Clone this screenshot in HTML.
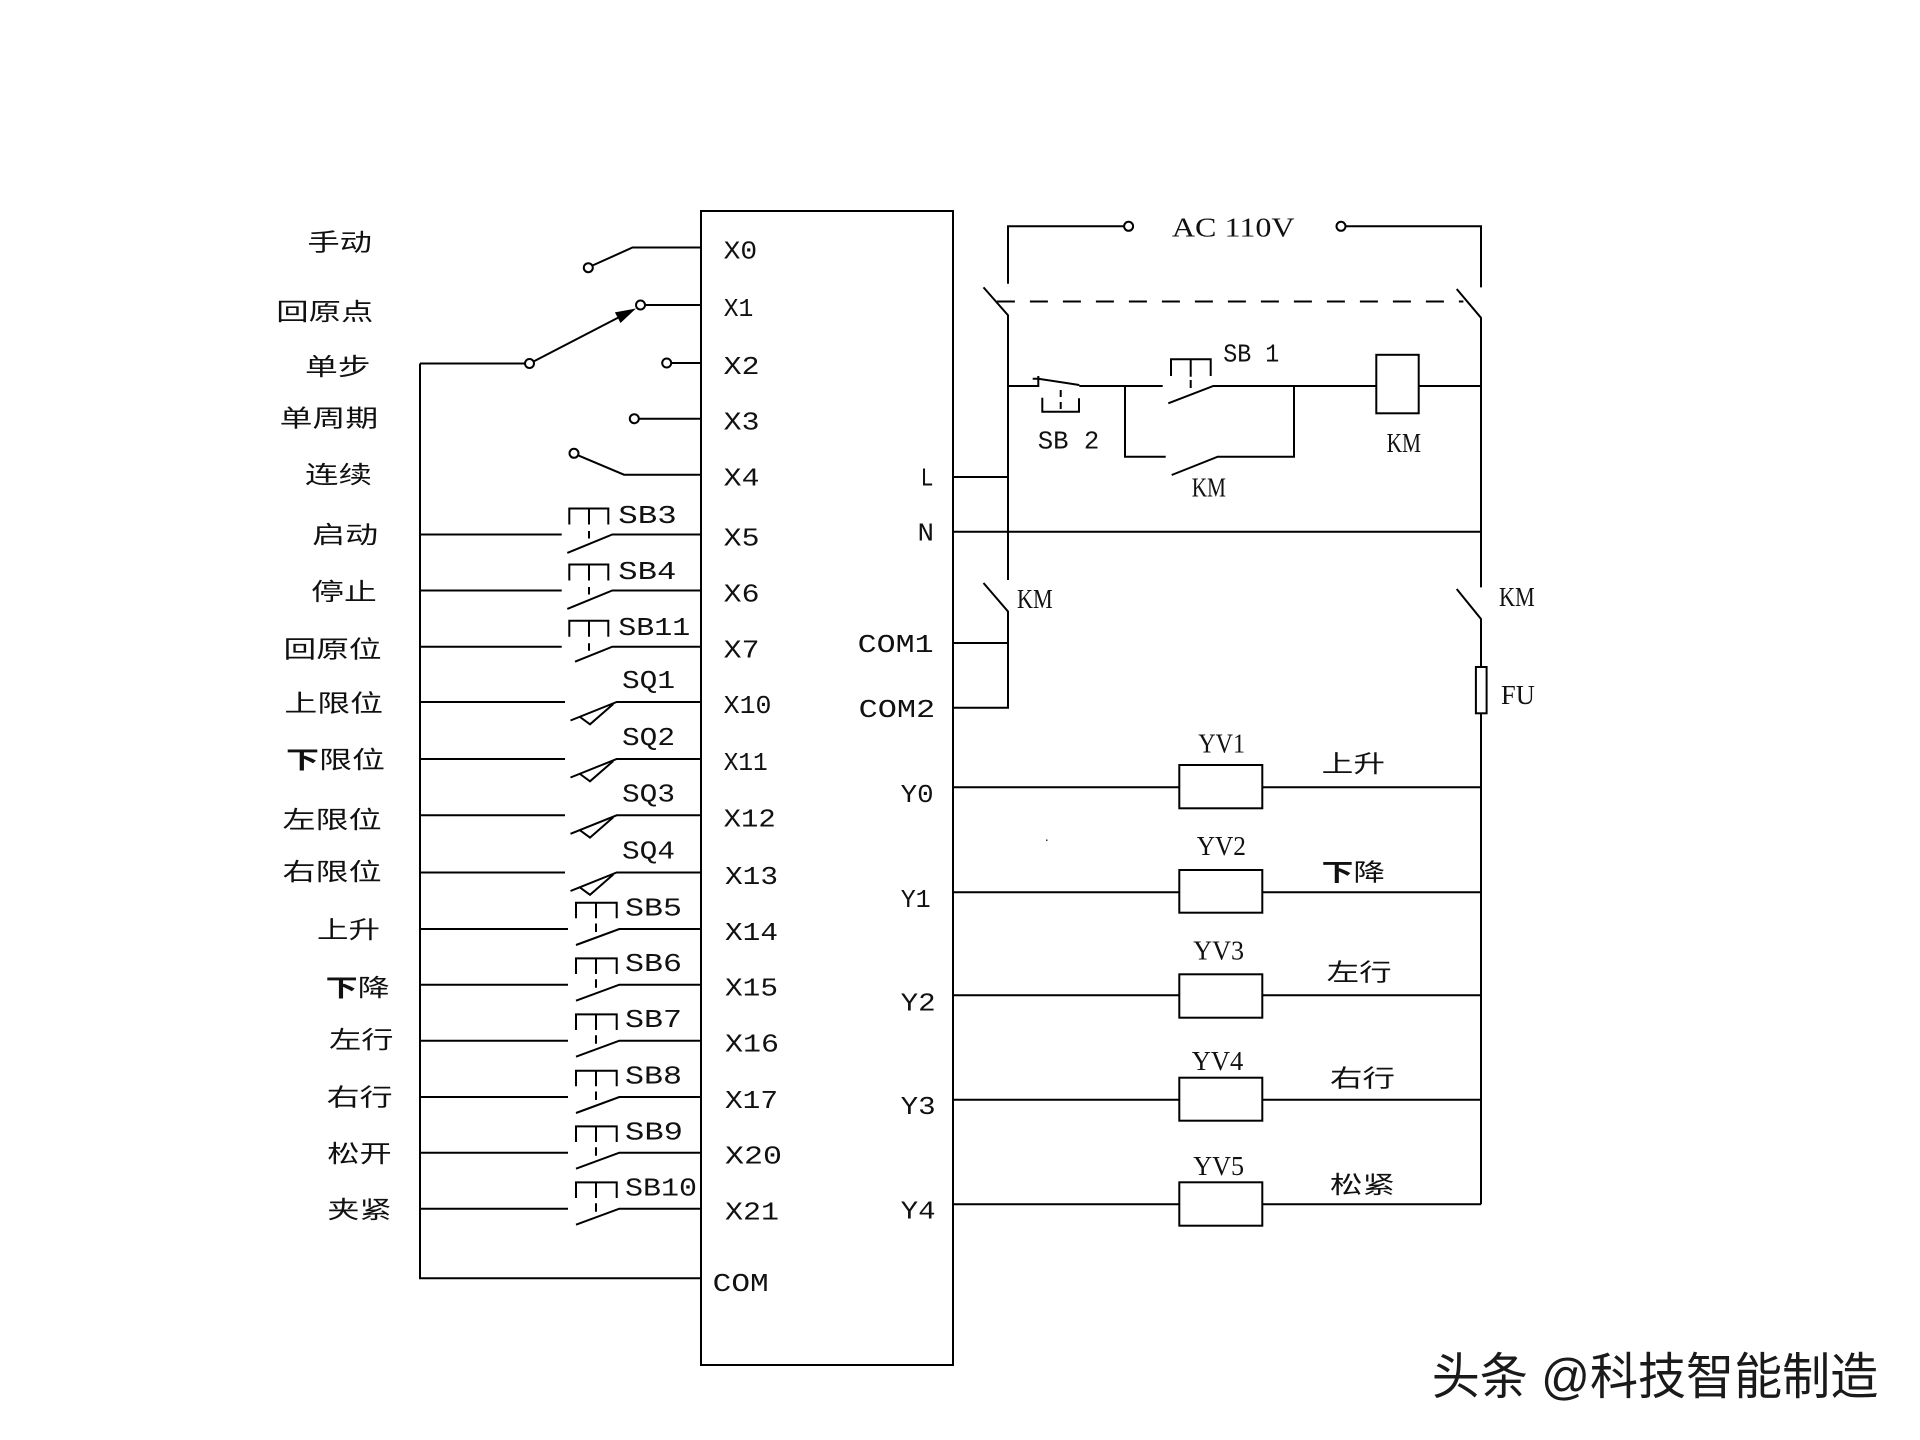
<!DOCTYPE html>
<html><head><meta charset="utf-8">
<style>
html,body{margin:0;padding:0;background:#fff;}
svg{display:block;}
.m{font-family:"Liberation Mono",monospace;font-size:26px;fill:#111;}
.s{font-family:"Liberation Serif",serif;font-size:27px;fill:#111;}
.c{font-family:"Liberation Sans","Noto Sans CJK SC",sans-serif;font-size:24px;fill:#111;}
.w{font-family:"Liberation Sans","Noto Sans CJK SC",sans-serif;font-size:50px;fill:#1a1a1a;}
</style></head><body>
<svg width="1920" height="1440" viewBox="0 0 1920 1440" xmlns="http://www.w3.org/2000/svg">
<rect x="0" y="0" width="1920" height="1440" fill="#fff"/>
<g stroke="#000" stroke-width="2" fill="none">
<!-- PLC box -->
<rect x="701" y="211" width="252" height="1154"/>
<!-- X0..X4 selector area -->
<path d="M701 247.5 H632.5 L592.5 265.5"/>
<circle cx="588.3" cy="267.7" r="4.5"/>
<path d="M701 305 H645"/>
<circle cx="640.5" cy="305" r="4.5"/>
<path d="M420 363.5 H525"/>
<circle cx="529.5" cy="363.5" r="4.5"/>
<path d="M533.5 361.5 L630 311.5"/>
<path d="M701 363 H671.2"/>
<circle cx="666.7" cy="363" r="4.5"/>
<path d="M701 418.7 H638.8"/>
<circle cx="634.3" cy="418.7" r="4.5"/>
<path d="M701 474.7 H624 L578 455.3"/>
<circle cx="574" cy="453.3" r="4.5"/>
<!-- bus -->
<path d="M420 363.5 V1278.3 H701"/>

<!-- SB type 1 rows: X5 534.5, X6 590.5, X7 646.7 -->
<path d="M420 534.5 H561.7 M567.3 552.9 L612.3 534.5 H701 M569.3 524.5 V508.5 H608.3 V524.5 M589 508.5 V524.5 M589 531 V538.5"/>
<path d="M420 590.5 H561.7 M567.3 608.9 L612.3 590.5 H701 M569.3 580.5 V564.5 H608.3 V580.5 M589 564.5 V580.5 M589 587 V594.5"/>
<path d="M420 646.7 H561.7 M575 661.7 L612.3 646.7 H701 M569.3 636.7 V620.7 H608.3 V636.7 M589 620.7 V636.7 M589 643.2 V650.7"/>

<!-- SQ rows: 702, 759, 815.3, 872.5 -->
<path d="M420 702 H565 M701 702 H616.7 L570.5 720.5 M580 717 L590 724.3 L613.3 704"/>
<path d="M420 759 H565 M701 759 H616.7 L570.5 777.5 M580 774 L590 781.3 L613.3 761"/>
<path d="M420 815.3 H565 M701 815.3 H616.7 L570.5 833.8 M580 830.3 L590 837.6 L613.3 817.3"/>
<path d="M420 872.5 H565 M701 872.5 H616.7 L570.5 891 M580 887.5 L590 894.8 L613.3 874.5"/>

<!-- SB type 2 rows: 929, 984.7, 1040.7, 1097, 1152.7, 1208.7 -->
<path d="M420 929 H568 M576 945 L619.3 929 H701 M576 918.3 V902.7 H616.7 V918.3 M596 902.7 V918.3 M596 923.5 V932"/>
<path d="M420 984.7 H568 M576 1000.7 L619.3 984.7 H701 M576 974 V958.4 H616.7 V974 M596 958.4 V974 M596 979.2 V987.7"/>
<path d="M420 1040.7 H568 M576 1056.7 L619.3 1040.7 H701 M576 1030 V1014.4 H616.7 V1030 M596 1014.4 V1030 M596 1035.2 V1043.7"/>
<path d="M420 1097 H568 M576 1113 L619.3 1097 H701 M576 1086.3 V1070.7 H616.7 V1086.3 M596 1070.7 V1086.3 M596 1091.5 V1100"/>
<path d="M420 1152.7 H568 M576 1168.7 L619.3 1152.7 H701 M576 1142 V1126.4 H616.7 V1142 M596 1126.4 V1142 M596 1147.2 V1155.7"/>
<path d="M420 1208.7 H568 M576 1224.7 L619.3 1208.7 H701 M576 1198 V1182.4 H616.7 V1198 M596 1182.4 V1198 M596 1203.2 V1211.7"/>

<!-- Right side power -->
<path d="M1008 283.7 V226.3 H1124.1"/>
<circle cx="1128.6" cy="226.3" r="4.5"/>
<circle cx="1341" cy="226.3" r="4.5"/>
<path d="M1345.5 226.3 H1481 V287.4"/>
<path d="M983.5 287.4 L1008 315.2 V580"/>
<path d="M1456.7 289 L1481 317.8 V587.4"/>
<path d="M996.9 301.5 H1463.4" stroke-dasharray="18 15"/>
<path d="M983.5 583 L1008 611.5 V707.8 H953"/>
<path d="M1456.7 589 L1481 619 V667"/>
<rect x="1475.9" y="667" width="10.7" height="46.3"/>
<path d="M1481 713.3 V1204.3"/>
<path d="M953 477 H1008 M953 531.7 H1481 M953 643 H1008"/>

<!-- control circuit -->
<path d="M1008 386 H1038.3 V376 M1032.7 378.7 H1040 M1038.3 378.7 L1079.3 385 M1079.3 386 H1125"/>
<path d="M1042.3 397.7 V411.7 H1079 V398.3"/>
<path d="M1060.7 390 V411.7" stroke-dasharray="7 5"/>
<path d="M1125 386 V456.7 H1165.7 M1171.7 475 L1217.7 456.7 H1294 V386"/>
<path d="M1125 386 H1162.7 M1168.3 403.3 L1213.3 386 H1376.3 M1418.7 386 H1481"/>
<path d="M1171 376 V359.3 H1210.7 V376 M1190.7 359.3 V376.7 M1190.7 380 V388"/>
<rect x="1376.3" y="354.8" width="42.4" height="58.5"/>

<!-- outputs -->
<path d="M953 787.3 H1179.3 M1262.3 787.3 H1481"/>
<rect x="1179.3" y="765" width="83" height="43.3"/>
<path d="M953 892.3 H1179.3 M1262.3 892.3 H1481"/>
<rect x="1179.3" y="870" width="83" height="42.7"/>
<path d="M953 995.3 H1179.3 M1262.3 995.3 H1481"/>
<rect x="1179.3" y="974.3" width="83" height="43.4"/>
<path d="M953 1099.7 H1179.3 M1262.3 1099.7 H1481"/>
<rect x="1179.3" y="1077.7" width="83" height="43"/>
<path d="M953 1204.3 H1179.3 M1262.3 1204.3 H1481"/>
<rect x="1179.3" y="1182.3" width="83" height="43.4"/>
</g>
<polygon points="636,308.5 620.5,323 614.9,312.4" fill="#000"/>
<rect x="1046" y="839.5" width="1.5" height="1.5" fill="#333"/>

<!-- Left Chinese labels -->
<g class="c" >
<text x="307.4" y="250.7" textLength="64.6" lengthAdjust="spacingAndGlyphs">手动</text>
<text x="276.3" y="319.8" textLength="97.1" lengthAdjust="spacingAndGlyphs">回原点</text>
<text x="305" y="374.8" textLength="65.6" lengthAdjust="spacingAndGlyphs">单步</text>
<text x="279.7" y="426.5" textLength="98.5" lengthAdjust="spacingAndGlyphs">单周期</text>
<text x="305" y="483" textLength="67" lengthAdjust="spacingAndGlyphs">连续</text>
<text x="312.2" y="543" textLength="66" lengthAdjust="spacingAndGlyphs">启动</text>
<text x="311.2" y="599.8" textLength="65.6" lengthAdjust="spacingAndGlyphs">停止</text>
<text x="283.5" y="657.3" textLength="98.1" lengthAdjust="spacingAndGlyphs">回原位</text>
<text x="284.4" y="711.5" textLength="98.6" lengthAdjust="spacingAndGlyphs">上限位</text>
<text x="286" y="768" textLength="99" lengthAdjust="spacingAndGlyphs"><tspan font-weight="bold">下</tspan>限位</text>
<text x="282.5" y="828" textLength="99.1" lengthAdjust="spacingAndGlyphs">左限位</text>
<text x="282.5" y="880" textLength="99.1" lengthAdjust="spacingAndGlyphs">右限位</text>
<text x="317" y="938" textLength="63" lengthAdjust="spacingAndGlyphs">上升</text>
<text x="325.6" y="996" textLength="64.1" lengthAdjust="spacingAndGlyphs"><tspan font-weight="bold">下</tspan>降</text>
<text x="329" y="1048" textLength="64.5" lengthAdjust="spacingAndGlyphs">左行</text>
<text x="326.6" y="1105.7" textLength="66" lengthAdjust="spacingAndGlyphs">右行</text>
<text x="327.3" y="1162" textLength="64.4" lengthAdjust="spacingAndGlyphs">松开</text>
<text x="327.3" y="1218" textLength="64.4" lengthAdjust="spacingAndGlyphs">夹紧</text>
<!-- right Chinese -->
<text x="1321.7" y="772" textLength="63.3" lengthAdjust="spacingAndGlyphs">上升</text>
<text x="1321.7" y="880.7" textLength="63.3" lengthAdjust="spacingAndGlyphs"><tspan font-weight="bold">下</tspan>降</text>
<text x="1326.7" y="980.7" textLength="65" lengthAdjust="spacingAndGlyphs">左行</text>
<text x="1330" y="1086.5" textLength="65" lengthAdjust="spacingAndGlyphs">右行</text>
<text x="1330" y="1193" textLength="65" lengthAdjust="spacingAndGlyphs">松紧</text>
</g>

<!-- Mono labels: SB/SQ -->
<g class="m">
<text x="618.3" y="522.9" textLength="58.4" lengthAdjust="spacingAndGlyphs">SB3</text>
<text x="618.3" y="578.9" textLength="58" lengthAdjust="spacingAndGlyphs">SB4</text>
<text x="618.3" y="635.1" textLength="72" lengthAdjust="spacingAndGlyphs">SB11</text>
<text x="622" y="688" textLength="53" lengthAdjust="spacingAndGlyphs">SQ1</text>
<text x="622" y="745" textLength="53" lengthAdjust="spacingAndGlyphs">SQ2</text>
<text x="622" y="801.3" textLength="53" lengthAdjust="spacingAndGlyphs">SQ3</text>
<text x="622" y="858.5" textLength="53" lengthAdjust="spacingAndGlyphs">SQ4</text>
<text x="625" y="915.5" textLength="57" lengthAdjust="spacingAndGlyphs">SB5</text>
<text x="625" y="971.2" textLength="57" lengthAdjust="spacingAndGlyphs">SB6</text>
<text x="625" y="1027.2" textLength="57" lengthAdjust="spacingAndGlyphs">SB7</text>
<text x="625" y="1083.5" textLength="57" lengthAdjust="spacingAndGlyphs">SB8</text>
<text x="625" y="1139.5" textLength="58" lengthAdjust="spacingAndGlyphs">SB9</text>
<text x="625" y="1195.5" textLength="72" lengthAdjust="spacingAndGlyphs">SB10</text>
<!-- X labels -->
<text x="723.7" y="258.5" textLength="33.5" lengthAdjust="spacingAndGlyphs">X0</text>
<text x="723.7" y="316" textLength="29.6" lengthAdjust="spacingAndGlyphs">X1</text>
<text x="723.7" y="374" textLength="35.8" lengthAdjust="spacingAndGlyphs">X2</text>
<text x="723.7" y="429.7" textLength="35.8" lengthAdjust="spacingAndGlyphs">X3</text>
<text x="723.7" y="485.7" textLength="35.8" lengthAdjust="spacingAndGlyphs">X4</text>
<text x="723.7" y="545.5" textLength="35.8" lengthAdjust="spacingAndGlyphs">X5</text>
<text x="723.7" y="601.5" textLength="35.8" lengthAdjust="spacingAndGlyphs">X6</text>
<text x="723.7" y="657.7" textLength="35.8" lengthAdjust="spacingAndGlyphs">X7</text>
<text x="723.7" y="713" textLength="47.8" lengthAdjust="spacingAndGlyphs">X10</text>
<text x="723.7" y="770" textLength="44" lengthAdjust="spacingAndGlyphs">X11</text>
<text x="723.7" y="826.3" textLength="52" lengthAdjust="spacingAndGlyphs">X12</text>
<text x="725" y="884" textLength="53" lengthAdjust="spacingAndGlyphs">X13</text>
<text x="725" y="940" textLength="53" lengthAdjust="spacingAndGlyphs">X14</text>
<text x="725" y="995.7" textLength="53" lengthAdjust="spacingAndGlyphs">X15</text>
<text x="725" y="1051.7" textLength="54" lengthAdjust="spacingAndGlyphs">X16</text>
<text x="725" y="1108" textLength="53" lengthAdjust="spacingAndGlyphs">X17</text>
<text x="725" y="1163.7" textLength="57" lengthAdjust="spacingAndGlyphs">X20</text>
<text x="725" y="1219.7" textLength="54" lengthAdjust="spacingAndGlyphs">X21</text>
<text x="712.7" y="1291" textLength="56" lengthAdjust="spacingAndGlyphs">COM</text>
<!-- right of box -->
<text x="920.5" y="485.5" textLength="13" lengthAdjust="spacingAndGlyphs">L</text>
<text x="917.5" y="540.5" textLength="16.5" lengthAdjust="spacingAndGlyphs">N</text>
<text x="857.7" y="652" textLength="76" lengthAdjust="spacingAndGlyphs">COM1</text>
<text x="858.6" y="717" textLength="76.6" lengthAdjust="spacingAndGlyphs">COM2</text>
<text x="900.7" y="802" textLength="33" lengthAdjust="spacingAndGlyphs">Y0</text>
<text x="900.7" y="907" textLength="30" lengthAdjust="spacingAndGlyphs">Y1</text>
<text x="900.7" y="1010.5" textLength="35" lengthAdjust="spacingAndGlyphs">Y2</text>
<text x="900.7" y="1114" textLength="35" lengthAdjust="spacingAndGlyphs">Y3</text>
<text x="900.7" y="1218.5" textLength="35" lengthAdjust="spacingAndGlyphs">Y4</text>
<text x="1223.3" y="361.7" textLength="56" lengthAdjust="spacingAndGlyphs">SB 1</text>
<text x="1037.7" y="448.3" textLength="61.6" lengthAdjust="spacingAndGlyphs">SB 2</text>
</g>

<!-- serif labels -->
<g class="s">
<text x="1171.9" y="236.3" textLength="122.7" lengthAdjust="spacingAndGlyphs">AC 110V</text>
<text x="1191.7" y="496.7" textLength="34.3" lengthAdjust="spacingAndGlyphs">KM</text>
<text x="1386.6" y="452" textLength="34.4" lengthAdjust="spacingAndGlyphs">KM</text>
<text x="1017" y="608" textLength="35.7" lengthAdjust="spacingAndGlyphs">KM</text>
<text x="1499" y="606" textLength="35.8" lengthAdjust="spacingAndGlyphs">KM</text>
<text x="1501" y="704" textLength="33.8" lengthAdjust="spacingAndGlyphs">FU</text>
<text x="1198.3" y="752.7" textLength="46.7" lengthAdjust="spacingAndGlyphs">YV1</text>
<text x="1196.7" y="855" textLength="49.3" lengthAdjust="spacingAndGlyphs">YV2</text>
<text x="1193.3" y="959.3" textLength="50.7" lengthAdjust="spacingAndGlyphs">YV3</text>
<text x="1191.7" y="1070" textLength="51.6" lengthAdjust="spacingAndGlyphs">YV4</text>
<text x="1193.3" y="1175" textLength="50.7" lengthAdjust="spacingAndGlyphs">YV5</text>
</g>

<!-- watermark -->
<text class="w" x="1431.7" y="1394" textLength="446.6" lengthAdjust="spacingAndGlyphs">头条 @科技智能制造</text>
</svg>
</body></html>
